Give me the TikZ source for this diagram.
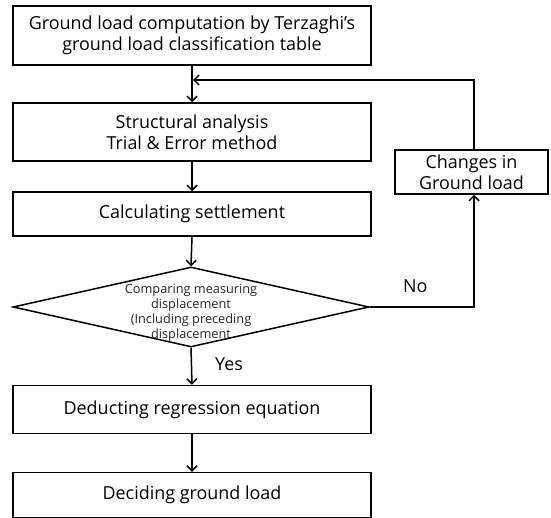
\documentclass[tikz,border=0pt]{standalone}
\usepackage{fontspec}
\setmainfont{Open Sans}
\usetikzlibrary{shapes.geometric,arrows.meta,calc}
\begin{document}
\begin{tikzpicture}[x=1bp,y=-1bp,
  box/.style={draw,line width=1.5bp,rectangle,inner sep=0pt,align=center,
    font=\fontsize{18}{21.5}\selectfont},
  flow/.style={line width=1.5bp,-{Straight Barb[length=5bp,width=10bp,line width=1.5bp]}},
  lbl/.style={font=\fontsize{18}{21}\selectfont,inner sep=0pt,anchor=base west}]
\useasboundingbox (0,0) rectangle (551,518);
\node[box,minimum width=358bp,minimum height=59bp] (top) at (192,35.5)
  {Ground load computation by Terzaghi's\\ground load classification table};
\node[box,minimum width=358bp,minimum height=58bp] (sa) at (192,132)
  {Structural analysis\\Trial \& Error method};
\node[box,minimum width=358bp,minimum height=44bp] (cs) at (192,214)
  {Calculating settlement};
\node[draw,diamond,line width=1.5bp,inner sep=0pt,minimum width=356bp,minimum height=80bp] (dm) at (191,307) {};
\node[align=center,inner sep=0pt,font=\fontsize{12.8}{15}\selectfont,text=black!85] (dmt) at (191,312.5)
  {Comparing measuring\\displacement\\(Including preceding\\displacement};
\node[box,minimum width=358bp,minimum height=48bp] (re) at (192,409.5)
  {Deducting regression equation};
\node[box,minimum width=358bp,minimum height=45bp] (dg) at (192,495)
  {Deciding ground load};
\node[box,minimum width=153bp,minimum height=44bp] (ch) at (471.5,172)
  {Changes in\\Ground load};
\coordinate (fb) at (474,80);
\coordinate (no) at (474,307);
\draw[flow] (top.south) -- (sa.north);
\draw[flow] (sa.south) -- (cs.north);
\draw[flow] (cs.south) -- (dm.north);
\draw[flow] (dm.south) -- (re.north);
\draw[flow] (re.south) -- (dg.north);
\draw[flow,shorten >=1bp] (ch.north -| fb) -- (fb) -- (top.south |- fb);
\draw[flow] (dm.east) -- (no) -- (ch.south -| no);
\node[lbl] (yes) at (215,370) {Yes};
\node[lbl] (nol) at (403,292) {No};
\end{tikzpicture}
\end{document}
